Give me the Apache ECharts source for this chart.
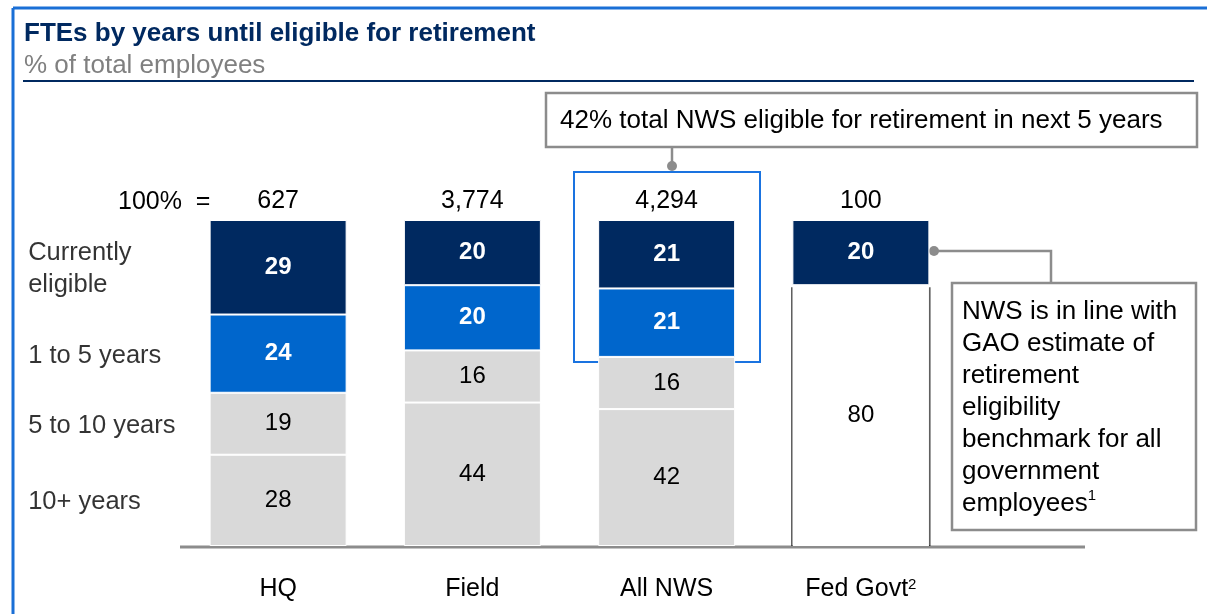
<!DOCTYPE html>
<html>
<head>
<meta charset="utf-8">
<script src="https://cdn.jsdelivr.net/npm/echarts@6/dist/echarts.min.js"></script>
<style>
  html, body { margin: 0; padding: 0; background: #fff; }
  #chart { width: 1207px; height: 614px; }
</style>
</head>
<body>
<div id="chart"></div>
<script>
// data
const categories = ['HQ', 'Field', 'All NWS', 'Fed Govt{sup|2}']
const totals = ['627', '3,774', '4,294', '100']
const rowNames = ['10+ years', '5 to 10 years', '1 to 5 years', 'Currently\neligible']
const tenPlus = [28, 44, 42, null]
const fiveToTen = [19, 16, 16, null]
const oneToFive = [24, 20, 21, null]
const currentlyEligible = [29, 20, 21, 20]
const fedRemainder = [null, null, null, 80]

const navy = '#002960'
const blue = '#0066CC'
const gray = '#D9D9D9'
const boxGray = '#8C8C8C'
const font = 'Liberation Sans, Arial, sans-serif'

// HQ segment midpoints, used to place the row labels on the left
const hqStack = [tenPlus[0], fiveToTen[0], oneToFive[0], currentlyEligible[0]]
const rowLabelPoints = []
let acc = 0
hqStack.forEach((v, i) => {
  rowLabelPoints.push({ value: [0, acc + v / 2], name: rowNames[i] })
  acc += v
})

const chart = echarts.init(document.getElementById('chart'))

function segLabel(color, bold) {
  return {
    show: true,
    position: 'inside',
    color: color,
    fontSize: 24,
    fontWeight: bold ? 'bold' : 'normal',
    fontFamily: font
  }
}

function barSeries(name, data, color, label) {
  return {
    name: name,
    type: 'bar',
    stack: 'total',
    barWidth: 137,
    data: data,
    itemStyle: { color: color, borderColor: '#fff', borderWidth: 1 },
    label: label,
    silent: true
  }
}

chart.setOption({
  animation: false,
  textStyle: { fontFamily: font },
  grid: { left: 181, right: 249, top: 220, bottom: 68 },
  xAxis: [
    {
      type: 'category',
      data: categories,
      axisLine: { show: false },
      axisTick: { show: false },
      axisLabel: {
        interval: 0,
        margin: 31,
        fontSize: 25,
        color: '#000',
        fontFamily: font,
        rich: { sup: { fontSize: 15, verticalAlign: 'top', padding: [0, 0, 10, 0], color: '#000' } }
      }
    },
    {
      type: 'category',
      position: 'top',
      data: totals,
      axisLine: { show: false },
      axisTick: { show: false },
      axisLabel: { interval: 0, margin: 6, fontSize: 25, color: '#000', fontFamily: font }
    }
  ],
  yAxis: { type: 'value', min: 0, max: 100, show: false },
  series: [
    barSeries('Not yet eligible', fedRemainder, '#fff', segLabel('#000', false)),
    barSeries('10+ years', tenPlus, gray, segLabel('#000', false)),
    barSeries('5 to 10 years', fiveToTen, gray, segLabel('#000', false)),
    barSeries('1 to 5 years', oneToFive, blue, segLabel('#fff', true)),
    barSeries('Currently eligible', currentlyEligible, navy, segLabel('#fff', true)),
    {
      // side rules of the Fed Govt remainder block
      type: 'custom',
      silent: true,
      data: fedRemainder.map((v, i) => (v == null ? null : [i, v])).filter(Boolean),
      renderItem: function (params, api) {
        const bottom = api.coord([api.value(0), 0])
        const top = api.coord([api.value(0), api.value(1)])
        const half = 68.5
        const style = { stroke: '#000', lineWidth: 2 }
        return {
          type: 'group',
          children: [
            { type: 'line', shape: { x1: bottom[0] - half, y1: top[1] + 2, x2: bottom[0] - half, y2: bottom[1] }, style: style },
            { type: 'line', shape: { x1: bottom[0] + half, y1: top[1] + 2, x2: bottom[0] + half, y2: bottom[1] }, style: style }
          ]
        }
      }
    },
    {
      // row labels on the left, aligned with the HQ segments
      type: 'scatter',
      silent: true,
      symbolSize: 1,
      itemStyle: { color: 'transparent' },
      data: rowLabelPoints,
      label: {
        show: true,
        position: 'inside',
        align: 'left',
        offset: [-250, 2],
        fontSize: 25.5,
        lineHeight: 32,
        color: '#000',
        fontFamily: font,
        formatter: p => p.name
      }
    }
  ],
  graphic: [
    // frame
    { type: 'line', shape: { x1: 13, y1: 8, x2: 1207, y2: 8 }, style: { stroke: '#1A6FD6', lineWidth: 3 } },
    { type: 'line', shape: { x1: 13, y1: 8, x2: 13, y2: 614 }, style: { stroke: '#1A6FD6', lineWidth: 3 } },
    // title block
    { type: 'text', x: 24, y: 34, style: { text: 'FTEs by years until eligible for retirement', font: 'bold 26px ' + font, fill: navy, verticalAlign: 'middle' } },
    { type: 'text', x: 24, y: 66, style: { text: '% of total employees', font: '26px ' + font, fill: '#808080', verticalAlign: 'middle' } },
    { type: 'line', shape: { x1: 23, y1: 81, x2: 1194, y2: 81 }, style: { stroke: navy, lineWidth: 2 } },
    // base line
    { type: 'line', shape: { x1: 180, y1: 547, x2: 1085, y2: 547 }, style: { stroke: boxGray, lineWidth: 3 } },
    // 100% =
    { type: 'text', x: 118, y: 202, style: { text: '100%  =', font: '25px ' + font, fill: '#000', verticalAlign: 'middle' } },
    // callout 1
    { type: 'rect', shape: { x: 546, y: 93, width: 651, height: 54 }, style: { fill: '#fff', stroke: boxGray, lineWidth: 2.5 } },
    { type: 'text', x: 560, y: 121, style: { text: '42% total NWS eligible for retirement in next 5 years', font: '26px ' + font, fill: '#000', verticalAlign: 'middle' } },
    { type: 'line', shape: { x1: 672, y1: 147, x2: 672, y2: 166 }, style: { stroke: boxGray, lineWidth: 2.5 } },
    { type: 'circle', shape: { cx: 672, cy: 166, r: 5 }, style: { fill: boxGray } },
    { type: 'rect', shape: { x: 574, y: 172, width: 186, height: 190 }, style: { fill: 'none', stroke: '#1A73E0', lineWidth: 2 } },
    // callout 2
    { type: 'polyline', shape: { points: [[934, 251], [1051, 251], [1051, 283]] }, style: { fill: 'none', stroke: boxGray, lineWidth: 2.5 } },
    { type: 'circle', shape: { cx: 934, cy: 251, r: 5 }, style: { fill: boxGray } },
    { type: 'rect', shape: { x: 952, y: 283, width: 244, height: 247 }, style: { fill: '#fff', stroke: boxGray, lineWidth: 2.5 } },
    {
      type: 'text', x: 962, y: 296,
      style: {
        text: 'NWS is in line with\nGAO estimate of\nretirement\neligibility\nbenchmark for all\ngovernment\nemployees{sup|1}',
        font: '26px ' + font,
        fill: '#000',
        lineHeight: 32,
        verticalAlign: 'top',
        rich: { sup: { fontSize: 15, verticalAlign: 'top', padding: [0, 0, 10, 0], fill: '#000' } }
      }
    }
  ]
})
</script>
</body>
</html>
